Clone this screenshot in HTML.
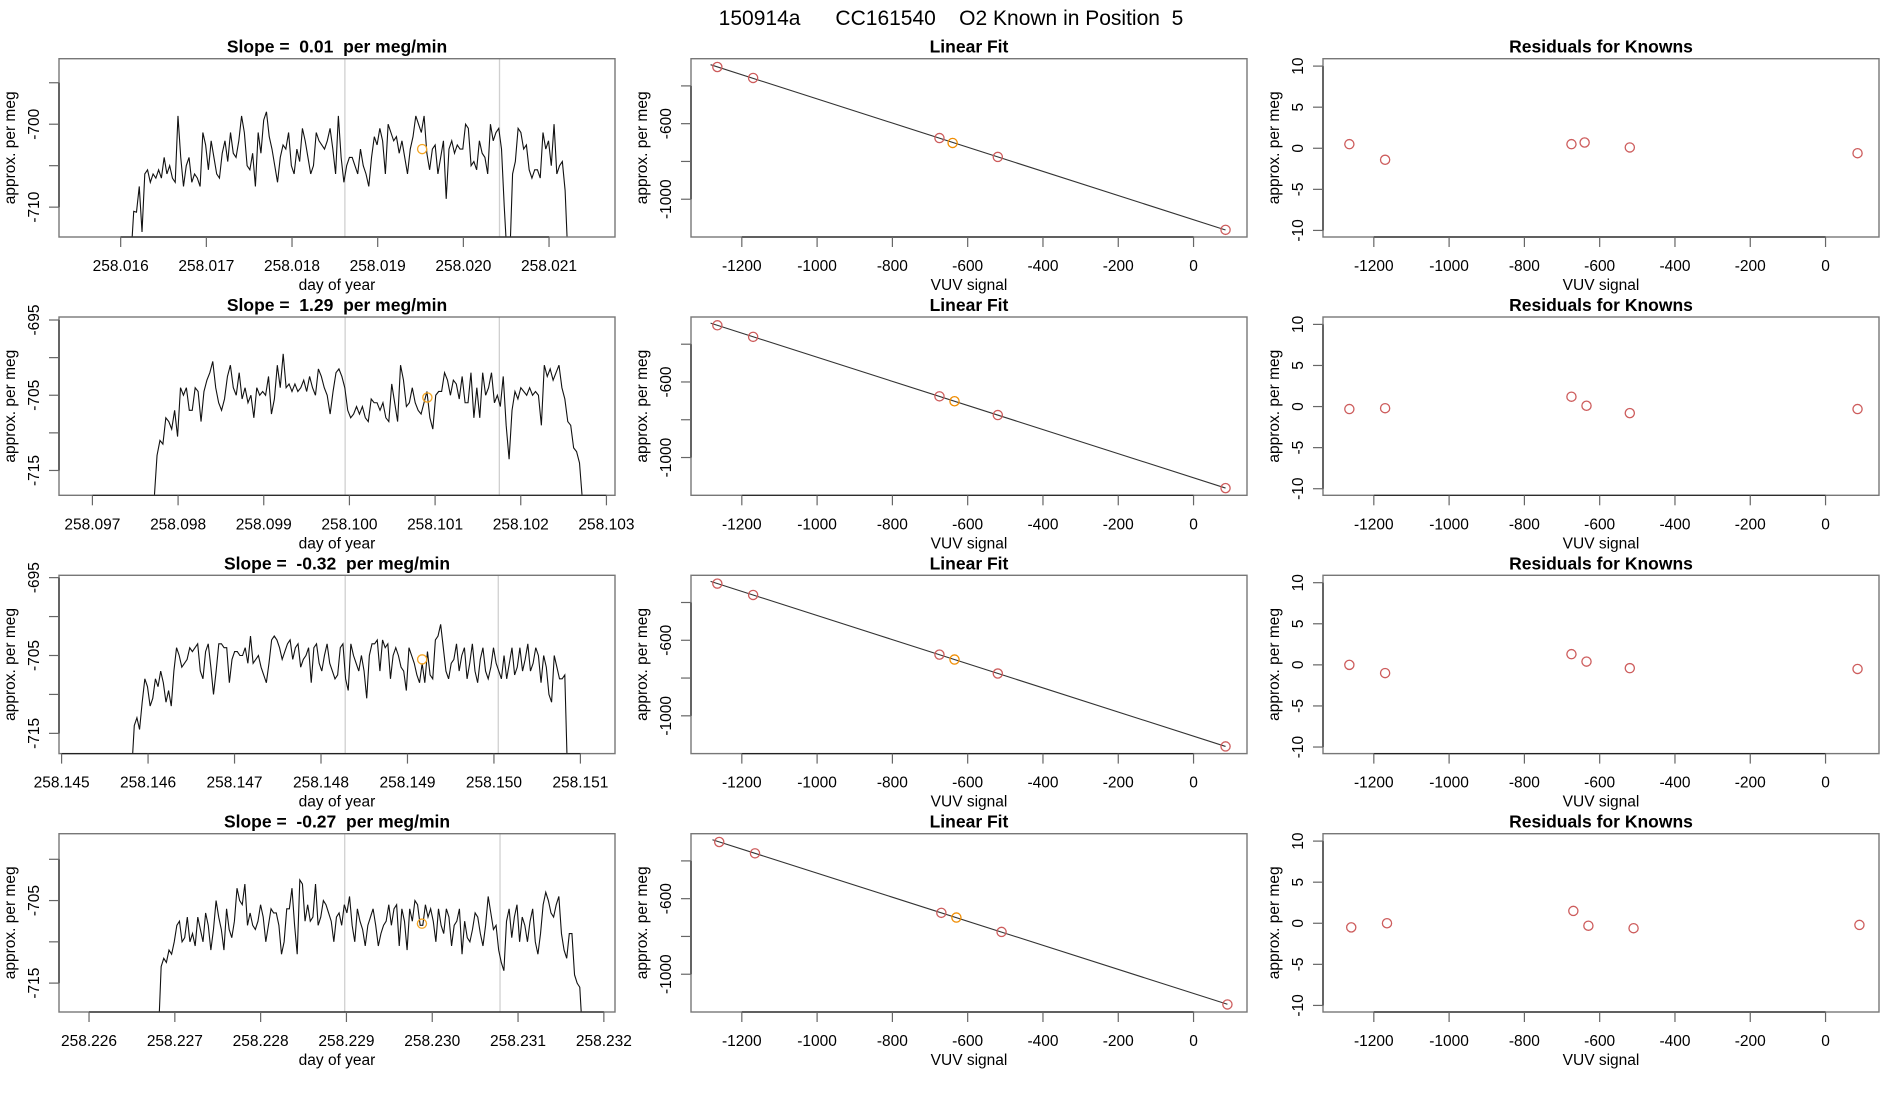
<!DOCTYPE html>
<html><head><meta charset="utf-8">
<style>
html,body{margin:0;padding:0;background:#fff;}
svg{display:block;font-family:"Liberation Sans",Arial,sans-serif;}
svg text{white-space:pre;}
</style></head>
<body>
<svg id="chart" width="1900" height="1100" viewBox="0 0 1900 1100" xmlns="http://www.w3.org/2000/svg" xml:space="preserve">
<text x="951" y="25" font-size="21" text-anchor="middle">150914a      CC161540    O2 Known in Position  5</text>
</svg>
<script>
// ---------- DATA ----------
const slopeTitles = ["0.01", "1.29", "-0.32", "-0.27"];
const tsStart = [258.01612, 258.09772, 258.14581, 258.22681];
const tsEnd = [258.02122, 258.10272, 258.15085, 258.23175];
const tsXlim = [[258.01528,258.02177],[258.09661,258.1031],[258.14497,258.1514],[258.22565,258.23213]];
const tsYlim = [[-713.6,-692.1],[-718.3,-694.6],[-717.6,-694.7],[-718.5,-696.9]];
const tsXTicks = [[258.016,258.017,258.018,258.019,258.020,258.021],[258.097,258.098,258.099,258.100,258.101,258.102,258.103],[258.145,258.146,258.147,258.148,258.149,258.150,258.151],[258.226,258.227,258.228,258.229,258.230,258.231,258.232]];
const tsYTicks = [[-695,-700,-705,-710],[-695,-700,-705,-710,-715],[-695,-700,-705,-710,-715],[-700,-705,-710,-715]];
const tsYLabels = [[-700,-710],[-695,-705,-715],[-695,-705,-715],[-705,-715]];
const tsGrey = [[258.018617,258.020422],[258.09995,258.10175],[258.14828,258.15005],[258.22898,258.23079]];
const tsOrangeX = [258.019519, 258.10091, 258.14917, 258.22988];
const tsOrangeY = [-703, -705.3, -705.5, -707.8];
const series1 = [-716,-710.5,-710.6,-707.5,-713,-706,-705.5,-707,-706,-706.5,-705.5,-706.5,-704,-706,-705,-706.5,-707,-699,-704,-707.5,-705,-704,-707,-706,-706.5,-707.5,-701,-702.5,-705.5,-702,-704,-706,-706.5,-703.5,-702,-704.5,-701,-703.5,-704,-702,-699,-701,-705,-705.5,-703.5,-707.5,-701,-703.5,-699.5,-698.5,-701.5,-703,-705,-707,-704,-702.5,-703,-701,-705,-706,-703,-704.5,-700.5,-702,-704,-706,-705,-701,-702,-702.5,-703,-702,-700.5,-703,-706,-699,-704,-707,-705,-704,-704,-705,-706,-703,-705,-706,-707.5,-704,-701.5,-702.5,-700.5,-702,-706,-700,-701,-702,-701.5,-703.5,-702,-704,-706,-703,-701.5,-699,-700,-701,-699,-703.5,-705.5,-703,-702.5,-706,-704,-702,-709,-703,-702,-703.5,-702.5,-703,-703,-700,-700.5,-705,-704.5,-705.5,-702,-703.5,-704,-706,-700,-702,-701,-700.5,-703,-710,-716,-716,-706,-704.5,-700.5,-701,-703,-702.5,-705.5,-706.5,-705.5,-705.5,-706.5,-701,-703,-702,-705,-700,-706,-705,-704.5,-708,-716];
const series2 = [-719,-713,-711,-711.5,-708,-708.5,-709.5,-707,-710.5,-704,-705,-704,-707,-707,-704,-704.5,-708.5,-704.5,-703,-702,-700.5,-704,-706,-707,-705.5,-702.5,-701,-704,-705,-702,-705.5,-704,-706,-705,-708,-704,-705,-704.5,-705,-702.5,-707.5,-705.5,-701,-704,-699.5,-704,-703.5,-704.5,-703.5,-704.5,-704,-703,-704.5,-702.5,-704,-705,-701.5,-702.5,-704,-705,-707.5,-704.5,-702,-701.5,-702.5,-704,-707,-708,-707.5,-706.5,-707.5,-706.5,-708,-708.5,-705.5,-706,-706,-707,-706,-708,-708.5,-703.5,-706,-708.5,-701,-703,-706.5,-706,-704,-706,-707,-707.5,-706,-704.5,-708,-709.5,-705,-704.5,-704.5,-702,-703,-705,-703,-703.5,-705.5,-702.5,-706,-706,-702,-708,-704,-708,-702,-705,-704,-702,-706,-705,-706.5,-702.5,-709,-713.5,-707,-704.5,-705.5,-704,-704.5,-705,-704,-705,-704.5,-705,-709,-701,-702.5,-701.5,-703,-702,-701,-704,-705.5,-708.5,-709,-712,-712.5,-714,-719];
const series3 = [-720,-714,-713,-714.5,-711,-708,-709,-711.5,-710.5,-708,-709,-707,-708.5,-711,-709.5,-711.5,-707,-704,-705,-706.5,-706,-705.5,-704,-704.5,-704,-703.5,-707,-708,-704.5,-703.5,-706.5,-710,-707,-703.5,-703.5,-704,-704,-708.5,-705.5,-704.5,-704.5,-705,-705,-704,-706,-702.5,-706,-705.5,-705,-706.5,-707.5,-708.5,-706,-703,-702.5,-703,-704,-705.5,-704.5,-703.5,-703,-705.5,-704,-703.5,-706.5,-705.5,-705,-704,-708.5,-704,-703.5,-706,-707,-705,-703.5,-706,-707,-708,-707.5,-704,-703.5,-708,-709.5,-703.5,-705,-706,-707,-705,-707,-710.5,-705,-703.5,-703.5,-703,-707,-703,-704,-703.5,-708,-705,-704,-705,-706.5,-707,-709.5,-704,-705,-706,-707.5,-708.5,-706,-708.5,-704.5,-707.5,-708,-703,-702.5,-701,-704,-707,-708,-706,-705.5,-703.5,-707,-705,-704,-708,-706,-703.5,-707,-708.5,-705.5,-704,-707,-708,-706.5,-704,-706,-707,-708,-705,-708,-706,-704,-707.5,-706.5,-704,-707,-705.5,-703.5,-707,-706,-704,-705,-708.5,-705,-706.5,-710,-711,-705,-706.5,-708,-708,-707.5,-720];
const series4 = [-721,-713,-712,-712.5,-711,-711.5,-710,-708,-707.5,-710,-709.5,-707,-710,-709,-710.5,-707,-708.5,-710,-706.5,-708,-711,-708.5,-705,-707,-708.5,-711,-706,-708.5,-709.5,-707.5,-703.5,-705,-705.5,-703,-708,-706.5,-708,-708.5,-707.5,-705.5,-707,-710,-708,-706,-706.5,-706.5,-708,-711.5,-710,-706,-706,-703.5,-708,-711.5,-702.5,-703,-707.5,-705.5,-707.5,-707,-703,-708,-707,-705,-705.5,-706.5,-707.5,-710,-707,-706.5,-708,-705.5,-706.5,-704.5,-708,-710,-706,-707.5,-708.5,-710.5,-708,-707,-706,-708,-710.5,-709,-708,-707.5,-705.5,-708,-706,-705.5,-710.5,-706,-707.5,-711,-706,-707.5,-705,-705.5,-708,-708,-705.5,-707,-706,-707.5,-710,-706,-708,-709,-706,-707,-710.5,-708,-707.5,-706,-711.5,-707.5,-709.5,-710,-708.5,-706.5,-707,-709,-710.5,-708,-704.5,-706.5,-708.5,-708,-711,-712.5,-713.5,-707.5,-706,-709.5,-707,-705.5,-710,-707,-708,-710,-707.5,-706,-710,-711.5,-709,-705.5,-704,-705,-706.5,-707,-705.5,-704.5,-709,-711,-712,-709,-709,-714,-715,-715.5,-721];
const tsSeries = [series1, series2, series3, series4];

const fitX = [[-1265,-1170,-675,-640,-520,85],[-1265,-1170,-675,-635,-520,85],[-1265,-1170,-675,-635,-520,85],[-1260,-1165,-670,-630,-510,90]];
const fitY = [[-300,-358,-676,-702,-776,-1162],[-300,-361,-676,-702,-775,-1162],[-300,-360,-676,-702,-776,-1162],[-300,-360,-675,-700,-776,-1160]];
const orangeIndex = [3,3,3,3];
const residY = [[0.5,-1.4,0.5,0.7,0.1,-0.6],[-0.3,-0.2,1.2,0.1,-0.8,-0.3],[0,-1,1.3,0.4,-0.4,-0.5],[-0.5,0,1.5,-0.3,-0.6,-0.2]];
const vuvTicks = [-1200,-1000,-800,-600,-400,-200,0];
const vuvXlim = [-1335, 142];
const fitYlim = [-1200, -256];
const fitYTicks = [-400,-600,-800,-1000];
const fitYLabels = [-600,-1000];
const resYlim = [-10.8, 10.9];
const resYTicks = [10,5,0,-5,-10];

// ---------- LAYOUT ----------
const NS = "http://www.w3.org/2000/svg";
const svg = document.getElementById("chart");
const colL = [59, 691, 1323], pw = 556;
const rowT = [58.7, 317, 575.3, 833.7], ph = 178.3;

function el(tag, attrs, parent, txt) {
  const e = document.createElementNS(NS, tag);
  for (const k in attrs) e.setAttribute(k, attrs[k]);
  if (txt !== undefined) e.textContent = txt;
  (parent || svg).appendChild(e);
  return e;
}
function scale(d0, d1, r0, r1) { return v => r0 + (v - d0) / (d1 - d0) * (r1 - r0); }

function drawFrame(g, L, T, title, xlab, sx, xticks, xlabels, sy, yticks, ylabels) {
  const t = el("text", {x: L + pw/2, y: T - 6, "font-size": 17.5, "font-weight": "bold", "text-anchor": "middle"}, g, title);
  
  
  const box = el("rect", {x: L, y: T, width: pw, height: ph, fill: "none", stroke: "#777", "stroke-width": 1.4}, g);
  
  
  const B = T + ph;
  const xa = el("g", {}, g);
  
  
  el("line", {x1: sx(xticks[0]), x2: sx(xticks[xticks.length-1]), y1: B, y2: B, stroke: "#222", "stroke-width": 1.2}, xa);
  xticks.forEach((v, i) => {
    const x = sx(v);
    el("line", {x1: x, x2: x, y1: B, y2: B + 10, stroke: "#666", "stroke-width": 1.2}, xa);
    const tl = el("text", {x: x, y: B + 34, "font-size": 15.5, "text-anchor": "middle"}, xa, xlabels[i]);
    
    
  });
  const xt = el("text", {x: L + pw/2, y: B + 53, "font-size": 15.5, "text-anchor": "middle"}, g, xlab);
  
  
  const ya = el("g", {}, g);
  
  
  const ys = yticks.map(sy);
  el("line", {x1: L, x2: L, y1: Math.min(...ys), y2: Math.max(...ys), stroke: "#222", "stroke-width": 1.2}, ya);
  yticks.forEach(v => {
    const y = sy(v);
    el("line", {x1: L - 10, x2: L, y1: y, y2: y, stroke: "#666", "stroke-width": 1.2}, ya);
  });
  ylabels.forEach(v => {
    const y = sy(v);
    const tl = el("text", {x: 0, y: 0, "font-size": 15.5, "text-anchor": "middle", transform: `translate(${L-20},${y}) rotate(-90)`}, ya, String(v));
    
    
  });
  const yt = el("text", {x: 0, y: 0, "font-size": 15.5, "text-anchor": "middle", transform: `translate(${L-44},${T+ph/2}) rotate(-90)`}, g, "approx. per meg");
  
  
}

function circle(g, x, y, col, name) {
  const c = el("circle", {cx: x, cy: y, r: 4.6, fill: "none", stroke: col, "stroke-width": 1.3}, g);
  
  
}

for (let r = 0; r < 4; r++) {
  const T = rowT[r];
  {
    const L = colL[0];
    const g = el("g", {});
    
    
    const sx = scale(tsXlim[r][0], tsXlim[r][1], L, L + pw);
    const sy = scale(tsYlim[r][0], tsYlim[r][1], T + ph, T);
    const cp = el("clipPath", {id: "clip" + r}, g);
    el("rect", {x: L, y: T, width: pw, height: ph}, cp);
    tsGrey[r].forEach(v => {
      const gl = el("line", {x1: sx(v), x2: sx(v), y1: T, y2: T + ph, stroke: "#d0d0d0", "stroke-width": 1.3}, g);
      
      
    });
    const s = tsSeries[r];
    const n = s.length;
    const pts = s.map((v, i) => {
      const t = tsStart[r] + (tsEnd[r] - tsStart[r]) * i / (n - 1);
      return sx(t).toFixed(2) + "," + sy(v).toFixed(2);
    }).join(" ");
    const pl = el("polyline", {points: pts, fill: "none", stroke: "#111", "stroke-width": 1.1, "clip-path": `url(#clip${r})`}, g);
    
    
    circle(g, sx(tsOrangeX[r]), sy(tsOrangeY[r]), "#f5a623", "known-mean-point");
    drawFrame(g, L, T, `Slope =  ${slopeTitles[r]}  per meg/min`, "day of year", sx, tsXTicks[r], tsXTicks[r].map(v => v.toFixed(3)), sy, tsYTicks[r], tsYLabels[r]);
  }
  {
    const L = colL[1];
    const g = el("g", {});
    
    
    const sx = scale(vuvXlim[0], vuvXlim[1], L, L + pw);
    const sy = scale(fitYlim[0], fitYlim[1], T + ph, T);
    const xs = fitX[r], ys = fitY[r];
    const n = xs.length;
    const mx = xs.reduce((a,b)=>a+b,0)/n, my = ys.reduce((a,b)=>a+b,0)/n;
    let sxy = 0, sxx = 0;
    for (let i = 0; i < n; i++) { sxy += (xs[i]-mx)*(ys[i]-my); sxx += (xs[i]-mx)**2; }
    const b = sxy / sxx, a = my - b * mx;
    const x0 = Math.min(...xs) - 18, x1 = Math.max(...xs);
    const fl = el("line", {x1: sx(x0), y1: sy(a + b*x0), x2: sx(x1), y2: sy(a + b*x1), stroke: "#333", "stroke-width": 1.1}, g);
    
    
    xs.forEach((x, i) => circle(g, sx(x), sy(ys[i]), i === orangeIndex[r] ? "#f08c00" : "#cd5c5c", i === orangeIndex[r] ? "unknown-point" : "known-point"));
    drawFrame(g, L, T, "Linear Fit", "VUV signal", sx, vuvTicks, vuvTicks.map(String), sy, fitYTicks, fitYLabels);
  }
  {
    const L = colL[2];
    const g = el("g", {});
    
    
    const sx = scale(vuvXlim[0], vuvXlim[1], L, L + pw);
    const sy = scale(resYlim[0], resYlim[1], T + ph, T);
    fitX[r].forEach((x, i) => circle(g, sx(x), sy(residY[r][i]), "#cd5c5c", "residual-point"));
    drawFrame(g, L, T, "Residuals for Knowns", "VUV signal", sx, vuvTicks, vuvTicks.map(String), sy, resYTicks, resYTicks);
  }
}
</script>
</body></html>
